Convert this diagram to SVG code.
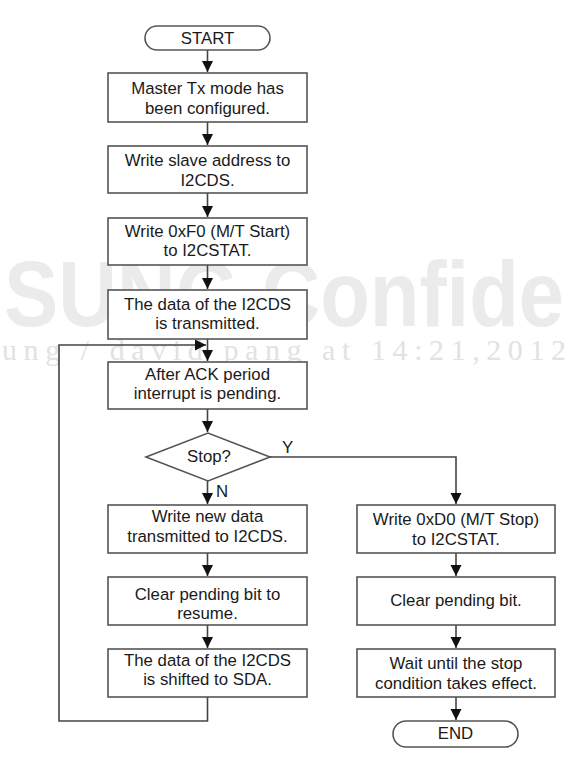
<svg xmlns="http://www.w3.org/2000/svg" width="570" height="761" viewBox="0 0 570 761">
<style>
.box{fill:#fff;stroke:#555;stroke-width:1.6}
.t{font-family:"Liberation Sans",Arial,sans-serif;font-size:16.8px;fill:#1a1a1a;text-anchor:middle}
.lbl{font-family:"Liberation Sans",Arial,sans-serif;font-size:16.8px;fill:#1a1a1a}
.c{fill:none;stroke:#444;stroke-width:1.6}
.wm1{font-family:"Liberation Sans",Arial,sans-serif;font-size:92px;font-weight:bold;fill:#ebebeb}
.wm2{font-family:"Liberation Serif","Times New Roman",serif;font-size:30px;fill:#e2e2e2}
</style>
<defs>
<marker id="ah" markerUnits="userSpaceOnUse" markerWidth="12" markerHeight="12" viewBox="0 0 12 12" refX="11" refY="6" orient="auto">
<path d="M0,0.5 L11,6 L0,11.5 Z" fill="#111"/>
</marker>
</defs>
<g id="watermark">
<text class="wm1" x="4" y="326" textLength="560" lengthAdjust="spacingAndGlyphs">SUNG Confide</text>
<text class="wm2" x="2" y="360" textLength="564" lengthAdjust="spacing">ung / david pang at 14:21,2012</text>
</g>
<g id="connectors">
<path class="c" d="M207.5,50 V72" marker-end="url(#ah)"/>
<path class="c" d="M207.5,122 V145" marker-end="url(#ah)"/>
<path class="c" d="M207.5,193 V217" marker-end="url(#ah)"/>
<path class="c" d="M207.5,265 V289" marker-end="url(#ah)"/>
<path class="c" d="M207.5,339 V361" marker-end="url(#ah)"/>
<path class="c" d="M207.5,409 V432" marker-end="url(#ah)"/>
<path class="c" d="M207.5,481 V504" marker-end="url(#ah)"/>
<path class="c" d="M207.5,553 V576" marker-end="url(#ah)"/>
<path class="c" d="M207.5,625 V648" marker-end="url(#ah)"/>
<path class="c" d="M207.5,697 V721 H59 V345 H206" marker-end="url(#ah)"/>
<path class="c" d="M270,457 H456 V504" marker-end="url(#ah)"/>
<path class="c" d="M456,553 V576" marker-end="url(#ah)"/>
<path class="c" d="M456,625 V648" marker-end="url(#ah)"/>
<path class="c" d="M456,697 V720" marker-end="url(#ah)"/>
<text class="lbl" x="282" y="453">Y</text>
<text class="lbl" x="216" y="497">N</text>
</g>
<g id="start">
<rect class="box" x="145" y="26" width="125" height="24" rx="12"/>
<text class="t" x="207.5" y="44">START</text>
</g>
<g id="n1">
<rect class="box" x="108" y="73" width="199" height="49"/>
<text class="t" x="207.5" y="94">Master Tx mode has</text>
<text class="t" x="207.5" y="114">been configured.</text>
</g>
<g id="n2">
<rect class="box" x="108" y="146" width="199" height="47"/>
<text class="t" x="207.5" y="166">Write slave address to</text>
<text class="t" x="207.5" y="186">I2CDS.</text>
</g>
<g id="n3">
<rect class="box" x="108" y="218" width="199" height="47"/>
<text class="t" x="207.5" y="237">Write 0xF0 (M/T Start)</text>
<text class="t" x="207.5" y="256">to I2CSTAT.</text>
</g>
<g id="n4">
<rect class="box" x="108" y="290" width="199" height="49"/>
<text class="t" x="207.5" y="310">The data of the I2CDS</text>
<text class="t" x="207.5" y="329">is transmitted.</text>
</g>
<g id="n5">
<rect class="box" x="108" y="362" width="199" height="47"/>
<text class="t" x="207.5" y="380">After ACK period</text>
<text class="t" x="207.5" y="399">interrupt is pending.</text>
</g>
<g id="stop">
<polygon class="box" points="146,457 208,433 270,457 208,481"/>
<text class="t" x="209" y="462">Stop?</text>
</g>
<g id="n6">
<rect class="box" x="108" y="505" width="199" height="48"/>
<text class="t" x="207.5" y="522">Write new data</text>
<text class="t" x="207.5" y="542">transmitted to I2CDS.</text>
</g>
<g id="n7">
<rect class="box" x="108" y="577" width="199" height="48"/>
<text class="t" x="207.5" y="600">Clear pending bit to</text>
<text class="t" x="207.5" y="619">resume.</text>
</g>
<g id="n8">
<rect class="box" x="108" y="649" width="199" height="48"/>
<text class="t" x="207.5" y="666">The data of the I2CDS</text>
<text class="t" x="207.5" y="685">is shifted to SDA.</text>
</g>
<g id="n9">
<rect class="box" x="357" y="505" width="198" height="48"/>
<text class="t" x="456" y="525">Write 0xD0 (M/T Stop)</text>
<text class="t" x="456" y="545">to I2CSTAT.</text>
</g>
<g id="n10">
<rect class="box" x="357" y="577" width="198" height="48"/>
<text class="t" x="456" y="606">Clear pending bit.</text>
</g>
<g id="n11">
<rect class="box" x="357" y="649" width="198" height="48"/>
<text class="t" x="456" y="669">Wait until the stop</text>
<text class="t" x="456" y="689">condition takes effect.</text>
</g>
<g id="end">
<rect class="box" x="393" y="721" width="125" height="26" rx="13"/>
<text class="t" x="455.5" y="739">END</text>
</g>
</svg>
